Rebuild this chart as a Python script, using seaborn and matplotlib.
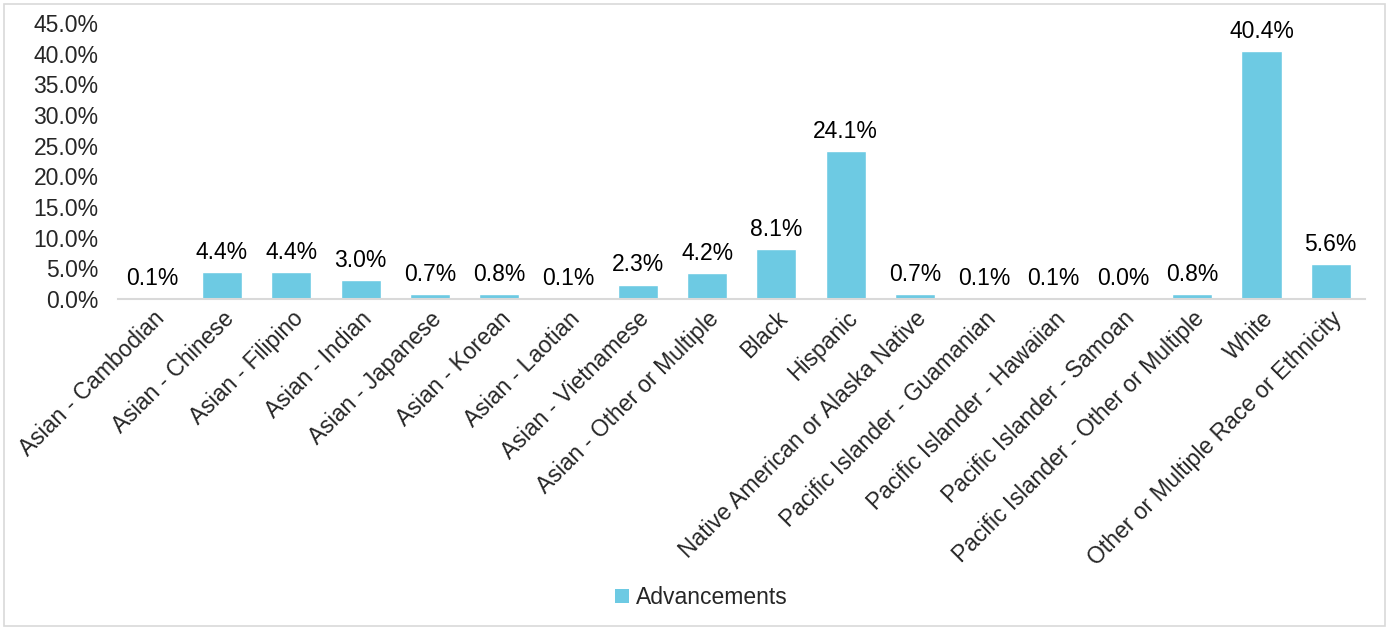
import pandas as pd
import matplotlib
matplotlib.use("Agg")
import matplotlib.pyplot as plt
import seaborn as sns
from matplotlib.patches import Patch, Rectangle

categories = [
    "Asian - Cambodian", "Asian - Chinese", "Asian - Filipino", "Asian - Indian",
    "Asian - Japanese", "Asian - Korean", "Asian - Laotian", "Asian - Vietnamese",
    "Asian - Other or Multiple", "Black", "Hispanic", "Native American or Alaska Native",
    "Pacific Islander - Guamanian", "Pacific Islander - Hawaiian", "Pacific Islander - Samoan",
    "Pacific Islander - Other or Multiple", "White", "Other or Multiple Race or Ethnicity",
]
advancements = [0.1, 4.4, 4.4, 3.0, 0.7, 0.8, 0.1, 2.3, 4.2, 8.1, 24.1, 0.7, 0.1, 0.1, 0.0, 0.8, 40.4, 5.6]
y_ticks = [0, 5, 10, 15, 20, 25, 30, 35, 40, 45]

bar_color = "#6DCAE3"
fs = 16.5

sns.set_style("white")
plt.rcParams["font.family"] = ["Liberation Sans", "DejaVu Sans"]

df = pd.DataFrame({"category": categories, "value": advancements})

fig = plt.figure(figsize=(13.89, 6.29), dpi=100)
ax = fig.add_axes([0.085, 0.525, 0.898, 0.438])

sns.barplot(data=df, x="category", y="value", color=bar_color, width=0.58,
            saturation=1, ax=ax)

# value labels above bars
for p, v in zip(ax.patches, advancements):
    ax.annotate(f"{v:.1f}%", (p.get_x() + p.get_width() / 2, p.get_height()),
                xytext=(0, 6), textcoords="offset points",
                ha="center", va="bottom", fontsize=fs, color="#000000")

ax.set_ylim(0, 45)
ax.set_yticks(y_ticks)
ax.set_yticklabels([f"{t:.1f}%" for t in y_ticks], fontsize=fs)
ax.set_xlim(-0.5, len(categories) - 0.5)
ax.set_xticks(range(len(categories)))
ax.set_xticklabels(categories, rotation=45, ha="right", rotation_mode="anchor", fontsize=fs)
ax.tick_params(axis="x", length=0, pad=6)
ax.tick_params(axis="y", length=0, pad=14)
ax.set_xlabel("")
ax.set_ylabel("")

for side in ["top", "right", "left"]:
    ax.spines[side].set_visible(False)
ax.spines["bottom"].set_color("#D9D9D9")
ax.spines["bottom"].set_linewidth(1.5)

handle = Patch(facecolor=bar_color, edgecolor="none", label="Advancements")
fig.legend(handles=[handle], loc="center", bbox_to_anchor=(0.505, 0.05),
           frameon=False, fontsize=fs, handlelength=0.6, handleheight=0.6,
           handletextpad=0.3)

# light border around the chart area
fig.patches.append(Rectangle((0.003, 0.004), 0.994, 0.99, transform=fig.transFigure,
                             fill=False, edgecolor="#D9D9D9", linewidth=1.2))

fig.savefig("out.png", dpi=100)
